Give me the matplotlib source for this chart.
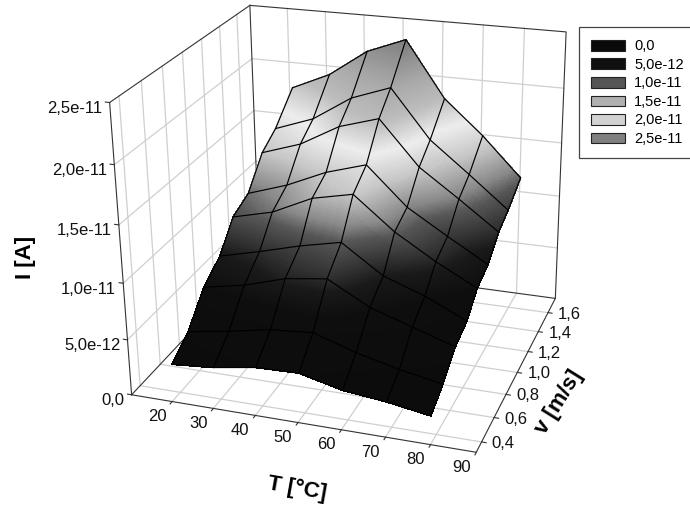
import numpy as np
import matplotlib
matplotlib.use('Agg')
import matplotlib.pyplot as plt
from matplotlib.colors import LinearSegmentedColormap
from matplotlib.patches import Patch
from mpl_toolkits.mplot3d import proj3d

plt.rcParams['font.family'] = ['Liberation Sans', 'DejaVu Sans']

T_points = [20.5, 30.5, 40.5, 50.5, 60.4, 70.2, 80.0]
v_points = [0.32, 0.49, 0.67, 0.85, 1.01, 1.19, 1.37, 1.54, 1.77]
# current in units of 1e-12 A, one row per v, one column per T
I_values = [
    [3.4, 3.7, 4.3, 4.4, 3.5, 3.1, 2.5],
    [4.7, 5.3, 6.0, 6.3, 5.1, 4.2, 3.5],
    [7.1, 7.8, 8.9, 9.4, 7.4, 6.2, 5.0],
    [8.4, 9.3, 10.3, 11.1, 8.6, 7.3, 5.6],
    [10.7, 11.6, 13.3, 14.1, 11.2, 9.0, 7.1],
    [11.5, 12.7, 14.3, 15.4, 12.0, 9.8, 7.7],
    [14.0, 15.2, 17.2, 18.3, 14.3, 11.8, 9.2],
    [15.1, 16.4, 18.7, 20.0, 15.6, 12.8, 9.9],
    [17.5, 19.1, 21.6, 23.0, 17.9, 14.8, 11.2],
]
T_ticks = [20, 30, 40, 50, 60, 70, 80, 90]
v_ticks = [0.4, 0.6, 0.8, 1.0, 1.2, 1.4, 1.6]
I_ticks = [0, 5e-12, 1e-11, 1.5e-11, 2e-11, 2.5e-11]
I_labels = ['0,0', '5,0e-12', '1,0e-11', '1,5e-11', '2,0e-11', '2,5e-11']
legend_colors = ['#0a0a0a', '#101010', '#555555', '#b0b0b0', '#d2d2d2', '#808080']

# gray ramp of the surface, height in 1e-12 A
ramp_levels = [0, 7, 8.5, 9.5, 11, 12, 14, 16, 18, 20, 23, 25]
ramp_grays = [.04, .055, .10, .20, .34, .54, .78, .93, .74, .66, .49, .42]

T_lim = (10, 90)
v_lim = (0.3184, 1.7565)
I_lim = (0, 2.5e-11)

fig = plt.figure(figsize=(6.9, 5.08), dpi=100)
ax = fig.add_axes([(91 + 1.48) / 690, 37.52 / 508, 508 / 690, 1], projection='3d')
ax.view_init(22.99, -70.75, 0.77)
ax.set_proj_type('persp', focal_length=np.exp(-0.529))
ax.set_box_aspect((np.exp(0.1414), np.exp(0.0999), 1), zoom=np.exp(0.0851))
ax.set_axis_off()
ax.computed_zorder = False

T_arr = np.array(T_points)
v_arr = np.array(v_points)
I_arr = np.array(I_values) * 1e-12

# finer cells only so the gray can run smoothly across each measured cell
sub = 24
T_fine = np.interp(np.linspace(0, 6, 6 * sub + 1), np.arange(7), T_arr)
v_fine = np.interp(np.linspace(0, 8, 8 * sub + 1), np.arange(9), v_arr)
I_rows = np.array([np.interp(T_fine, T_arr, r) for r in I_arr])
I_fine = np.array([np.interp(v_fine, v_arr, c) for c in I_rows.T]).T
TT, VV = np.meshgrid(T_fine, v_fine)

pos = (np.array(ramp_levels) - ramp_levels[0]) / (ramp_levels[-1] - ramp_levels[0])
cmap = LinearSegmentedColormap.from_list('surf', [(p, str(g)) for p, g in zip(pos, ramp_grays)], N=512)
rgba = cmap(I_fine / 2.5e-11)

grid = dict(color='#cfcfcf', lw=0.9, zorder=1)
frame = dict(color='#333333', lw=0.8, zorder=2)
v0, v1 = v_lim
T0, T1 = T_lim
z0, z1 = I_lim

# walls and floor
for t in T_ticks[:-1]:
    ax.plot([t, t], [v0, v1], [z0, z0], **grid)
    ax.plot([t, t], [v1, v1], [z0, z1], **grid)
for v in v_ticks:
    ax.plot([T0, T1], [v, v], [z0, z0], **grid)
    ax.plot([T0, T0], [v, v], [z0, z1], **grid)
for z in I_ticks[1:-1]:
    ax.plot([T0, T0], [v0, v1], [z, z], **grid)
    ax.plot([T0, T1], [v1, v1], [z, z], **grid)

# box edges
ax.plot([T0, T1, T1, T0, T0], [v0, v0, v1, v1, v0], [z0] * 5, **frame)
ax.plot([T0, T0, T0], [v0, v0, v1], [z0, z1, z1], **frame)
ax.plot([T0, T0], [v1, v1], [z0, z1], **frame)
ax.plot([T0, T1, T1], [v1, v1, v1], [z1, z1, z0], **frame)

ax.plot_surface(TT, VV, I_fine, rstride=1, cstride=1, facecolors=rgba, shade=False,
                linewidth=0.5, antialiased=False, zorder=3)

for r in range(9):
    ax.plot(T_arr, [v_arr[r]] * 7, I_arr[r], color='k', lw=0.85, zorder=4)
for c in range(7):
    ax.plot([T_arr[c]] * 9, v_arr, I_arr[:, c], color='k', lw=0.85, zorder=4)

# tick marks
for t in T_ticks:
    ax.plot([t, t], [v0, v0 - 0.02], [z0, z0], **frame)
for v in v_ticks:
    ax.plot([T1, T1 + 1], [v, v], [z0, z0], **frame)
for z in I_ticks:
    ax.plot([T0, T0 - 1], [v0, v0], [z, z], **frame)

ax.set_xlim(T_lim)
ax.set_ylim(v_lim)
ax.set_zlim(I_lim)

M = ax.get_proj()
def label(x, y, z, s, dx, dy, ha):
    xp, yp, _ = proj3d.proj_transform(x, y, z, M)
    ax.annotate(s, (xp, yp), xytext=(dx * .72, -dy * .72), textcoords='offset points',
                ha=ha, va='center', fontsize=12, color='#111111', annotation_clip=False)

for t in T_ticks:
    label(t, v0, z0, str(t), -15, 15, 'center')
for v in v_ticks:
    label(T1, v, z0, ('%.1f' % v).replace('.', ','), 10, 1.5, 'left')
for z, s in zip(I_ticks, I_labels):
    label(T0, v0, z, s, -7, 6, 'right')

def fig_label(x, y, s, rot):
    fig.text(x / 690, 1 - y / 508, s, rotation=rot, ha='center', va='center',
             rotation_mode='anchor', fontsize=16, fontweight='bold', color='k')

fig_label(25, 257, 'I [A]', 90)
fig_label(297, 489, 'T [°C]', -10)
fig_label(559, 402, 'v [m/s]', 58)

handles = [Patch(facecolor=c, edgecolor='#222222', lw=0.8) for c in legend_colors]
leg = fig.legend(handles, I_labels, loc='upper left', bbox_to_anchor=(579 / 690, 1 - 27 / 508),
                 borderaxespad=0, fancybox=False, framealpha=1, edgecolor='#444444', fontsize=10.5,
                 handlelength=2.33, handleheight=0.75, handletextpad=0.6, labelspacing=0.31,
                 borderpad=0.85)
leg.get_frame().set_linewidth(0.9)

fig.savefig('out.png', dpi=100)
